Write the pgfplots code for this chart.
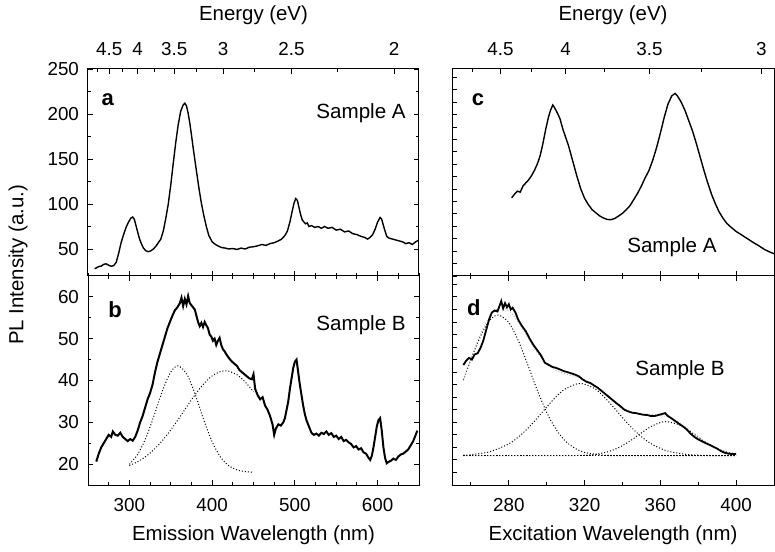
\documentclass[border=0pt]{standalone}
\usepackage{fontspec}
\setmainfont{Liberation Sans}
\usepackage{pgfplots}
\pgfplotsset{compat=1.18}

\pgfplotsset{
  panel/.style={
    scale only axis, clip=true,
    axis line style={line width=0.5pt},
    every tick/.style={line width=0.45pt, black},
    major tick length=2.6pt, minor tick length=1.6pt,
    tick align=inside,
    ticklabel style={font=\fontsize{9.4}{11}\selectfont},
    /pgf/number format/assume math mode=true,
    label style={font=\fontsize{10.2}{12}\selectfont},
  },
  topen/.style={
    panel, axis x line*=top, axis y line=none,
    xticklabel style={yshift=3pt},
    xlabel={Energy (eV)},
    xlabel style={at={(axis description cs:0.5,1)}, anchor=center, yshift=27pt},
  },
  dat/.style={black, line width=0.7pt},
  fit/.style={black, line width=0.5pt, dash pattern=on 0.5pt off 1pt, smooth},
}
\newcommand{\plab}[1]{\textbf{\fontsize{11}{13}\selectfont #1}}
\newcommand{\slab}{\fontsize{10.3}{12}\selectfont}

\begin{document}
\begin{tikzpicture}
\useasboundingbox (0,0) rectangle (387.5pt,275.5pt);

% ---------- a ----------
\begin{axis}[panel, at={(44pt,137.5pt)}, anchor=south west,
  width=165.5pt, height=103.5pt,
  xmin=250, xmax=650, ymin=20, ymax=250,
  xtick={300,400,500,600}, xticklabels={}, minor xtick={250,275,...,650},
  xtick pos=bottom, ytick pos=both,
  ytick={50,100,150,200,250}, minor y tick num=1,
  yticklabel style={xshift=-1pt}]
\addplot[dat] coordinates {
(258,28) (260,29) (263,30.5) (266,31) (269,33) (272,33.5) (275,32) (278,30.8)
(281,31.5) (284,35) (287,45) (290,57) (293,66) (296,74) (299,80) (302,84.5)
(304,85.5) (306,83) (308,76) (310,69) (312,62) (314,57) (317,51) (320,48)
(323,47) (326,48) (329,50) (332,53) (335,57) (338,61) (341,70) (344,84)
(347,100) (350,121) (353,145) (356,168) (359,188) (362,203) (365,210) (367,212)
(369,209) (371,201) (373,190) (375,177) (377,163) (379,150) (381,137) (384,118)
(387,101) (390,87) (393,75) (396,65) (400,58) (404,55) (408,53) (412,51.5)
(416,51) (420,50) (425,50.5) (430,49.5) (435,51) (440,50) (445,52) (450,52.5)
(455,53.5) (460,55) (465,54) (470,56) (475,57) (480,59) (484,61) (488,65)
(491,70) (494,80) (497,93) (499,101) (501,106) (503,104) (505,96) (507,88)
(509,82) (511,80) (513,78) (515,79) (517,75) (520,76) (524,74) (528,75)
(532,73) (536,75) (540,73) (545,74) (550,71) (555,72) (560,69) (565,70)
(570,67) (575,66) (580,64) (584,63) (588,61) (591,63) (594,66) (597,72)
(600,80) (603,85) (605,83) (607,76) (609,70) (611,64) (614,62) (618,61)
(622,60) (626,59) (630,58) (634,56) (638,57) (642,55) (646,58) (650,60)};
\node[anchor=center] at (axis description cs:0.06,0.85) {\plab{a}};
\node[anchor=center] at (axis description cs:0.825,0.787) {\slab Sample A};
\end{axis}
\begin{axis}[topen, at={(44pt,137.5pt)}, anchor=south west,
  width=165.5pt, height=103.5pt, xmin=250, xmax=650, ymin=0, ymax=1,
  xtick={275.56,310,354.29,413.33,496,620},
  xticklabels={4.5,4,3.5,3,2.5,2},
  minor xtick={261.05,291.76,330.67,381.54,450.91,551.11}]
\end{axis}

% ---------- b ----------
\begin{axis}[panel, at={(44pt,33pt)}, anchor=south west,
  width=165.5pt, height=104.5pt,
  xmin=250, xmax=650, ymin=15, ymax=65,
  xtick={300,400,500,600}, minor xtick={250,275,...,650},
  ytick={20,30,40,50,60}, minor y tick num=1,
  yticklabel style={xshift=-1pt},
  xticklabel style={yshift=-3pt},
  xlabel={Emission Wavelength (nm)},
  xlabel style={at={(axis description cs:0.5,0)}, anchor=center, yshift=-25pt}]
\addplot[dat, line width=1pt] coordinates {
(260,20.6) (263,22.5) (266,24) (269,25) (272,26) (275,27) (278,26.5) (280,27.8)
(283,27) (286,26.8) (289,27.5) (292,26.5) (295,26) (298,25.5) (301,26) (304,25.6)
(307,26.5) (310,28) (313,30) (316,31.5) (319,33.5) (322,35.5) (325,37) (328,39)
(331,42) (334,44.5) (337,46.5) (340,48.5) (343,50.5) (346,52.5) (349,54) (352,55.5)
(355,56.8) (358,57.5) (361,58.5) (363,59.8) (365,57.8) (367,59.5) (369,58.2) (371,60.2)
(373,58.5) (375,58) (377,57.5) (379,57) (381,55.5) (383,54) (385,53) (387,53.8)
(389,52.8) (391,54) (393,53.2) (395,52.5) (397,51) (399,50.5) (401,49.5) (403,50)
(405,48.5) (407,49.5) (409,50.2) (411,48.5) (413,47.5) (415,47) (418,46) (421,45.2)
(424,44.5) (427,44) (430,43.5) (433,42.5) (436,42) (439,41.5) (442,41) (445,40.5)
(448,40.3) (450,41.5) (452,38) (455,36.5) (458,35.5) (461,36) (464,34) (467,33)
(470,31.5) (473,29.5) (475,27) (477,28.5) (480,29.5) (483,29.2) (486,30) (488,31)
(490,33) (492,35) (494,38) (496,40.5) (498,43) (500,44.5) (502,45) (504,42)
(506,39) (508,36.5) (510,34) (512,32) (514,30.5) (516,29.5) (518,28.5) (520,27.5)
(523,27) (526,27.3) (529,26.8) (532,27.5) (535,27.2) (538,27.8) (541,27) (544,27.4)
(547,26.5) (550,26.8) (553,26) (556,26.5) (559,25.5) (562,25.8) (565,25.2) (568,24.8)
(571,24) (574,24.3) (577,23.5) (580,23.8) (583,22.8) (586,22.5) (589,21.5) (591,21)
(593,22) (595,24) (597,26.5) (599,29) (601,30.5) (603,31) (605,28) (607,24)
(609,21.5) (611,20.2) (613,20.5) (616,20.8) (619,21.3) (622,21) (625,21.8) (628,22.3)
(631,22.5) (634,23) (637,23.5) (640,24.5) (643,25.5) (646,27) (648,28)};
\addplot[fit] coordinates {
(300,19.94) (310,22.32) (320,26.28) (330,31.69) (340,37.53) (350,42.02) (359,43.5)
(370,41.32) (380,36.40) (390,30.53) (400,25.35) (410,21.72) (420,19.63) (430,18.61)
(440,18.20) (450,18.06)};
\addplot[fit] coordinates {
(300,19.65) (310,20.57) (320,21.85) (330,23.54) (340,25.65) (350,28.17) (360,30.98)
(370,33.92) (380,36.75) (390,39.23) (400,41.09) (410,42.13) (416,42.3) (420,42.22)
(430,41.37) (440,39.66) (450,37.28)};
\node[anchor=center] at (axis description cs:0.082,0.837) {\plab{b}};
\node[anchor=center] at (axis description cs:0.825,0.766) {\slab Sample B};
\end{axis}

% ---------- c ----------
\begin{axis}[panel, at={(226pt,137.5pt)}, anchor=south west,
  width=161pt, height=103.5pt,
  xmin=250, xmax=420, ymin=0, ymax=100,
  xtick={280,320,360,400}, xticklabels={}, minor x tick num=1,
  extra x ticks={260}, extra x tick labels={}, extra x tick style={major tick length=1.6pt},
  xtick pos=bottom, ytick pos=left,
  ytick={0,6,...,96}, yticklabels={}]
\addplot[dat] coordinates {
(281.5,37.8) (283,39.5) (284.5,41) (286,40.5) (287.5,43.5) (289,45) (290.5,46.5)
(292,48.5) (293.5,51) (295,54) (296.5,58) (298,64) (299.5,71) (301,77) (302,80)
(303.2,82.6) (304,81.5) (305.5,79) (307,76) (308.5,71) (310,67) (311.5,63) (313,58)
(314.5,53) (316,48) (318,42) (320,37.5) (322,34.5) (324,32) (326,30.5) (328,29)
(330,28) (332,27.3) (334,27.2) (336,27.8) (338,29) (340,30.3) (342,32) (344,34)
(346,37) (348,40) (350,43.5) (352,47.5) (354,51) (356,56) (358,62) (360,69)
(362,76.5) (364,83) (366,87) (367.8,88.2) (369,87) (371,84) (373,80) (375,75)
(377,70) (379,64) (381,57.5) (383,51) (385,45) (387,39.5) (389,35) (391,31)
(393,28) (395,25.5) (397,23.8) (400,21.5) (403,19.8) (406,18) (409,16.2) (412,14.6)
(415,12.8) (418,11.5) (420,10.8)};
\node[anchor=center] at (axis description cs:0.081,0.85) {\plab{c}};
\node[anchor=center] at (axis description cs:0.683,0.14) {\slab Sample A};
\end{axis}
\begin{axis}[topen, at={(226pt,137.5pt)}, anchor=south west,
  width=161pt, height=103.5pt, xmin=250, xmax=420, ymin=0, ymax=1,
  xtick={275.56,310,354.29,413.33},
  xticklabels={4.5,4,3.5,3},
  minor xtick={261.05,291.76,330.67,381.54}]
\end{axis}

% ---------- d ----------
\begin{axis}[panel, at={(226pt,33pt)}, anchor=south west,
  width=161pt, height=104.5pt,
  xmin=250, xmax=420, ymin=0, ymax=100,
  xtick={280,320,360,400}, minor x tick num=1,
  extra x ticks={260}, extra x tick labels={}, extra x tick style={major tick length=1.6pt},
  ytick pos=left, ytick={0,6,...,96}, yticklabels={},
  xticklabel style={yshift=-3pt},
  xlabel={Excitation Wavelength (nm)},
  xlabel style={at={(axis description cs:0.5,0)}, anchor=center, yshift=-25pt}]
\addplot[fit] coordinates {(256,14) (400,14)};
\addplot[fit] coordinates {
(256,50.2) (260,60.0) (265,71.1) (270,78.9) (274.5,81.3) (280,77.7) (285,69.1)
(290,57.5) (295,45.4) (300,34.7) (305,26.5) (310,20.9) (315,17.5) (320,15.6)
(330,14.25) (340,14.03) (360,14) (400,14)};
\addplot[fit] coordinates {
(256,14.28) (260,14.51) (270,15.93) (280,19.71) (285,22.93) (290,27.1) (295,32.05)
(300,37.3) (305,42.3) (310,46.1) (317.6,48.6) (325,46.3) (330,42.4) (335,37.5)
(340,32.27) (345,27.3) (350,23.09) (355,19.82) (360,17.5) (365,15.98) (375,14.52)
(385,14.11) (400,14.0)};
\addplot[fit] coordinates {
(256,14) (310,14.07) (320,14.25) (325,14.61) (330,15.36) (335,16.72) (340,18.83)
(345,21.68) (350,24.94) (355,27.94) (360,29.9) (363.4,30.3) (370,28.8) (375,26.09)
(380,22.84) (385,19.78) (390,17.38) (395,15.77) (400,14.83)};
\addplot[fit, gray!60] coordinates {
(256,50.5) (260,60.5) (265,72.1) (270,80.8) (275,84.7) (280,83.4) (285,78.0)
(290,70.6) (295,63.45) (300,58.0) (305,54.8) (310,53.1) (315,51.9) (320,50.2)
(325,47.6) (330,44.0) (335,40.3) (340,37.1) (345,35.0) (350,34.0) (355,33.8)
(360,33.4) (365,32.2) (370,29.85) (375,26.6) (380,23.1) (385,19.9) (390,17.4)
(395,15.8) (400,14.8)};
\addplot[dat, line width=0.9pt] coordinates {
(256,57.4) (257.5,59.5) (259,60.8) (260.5,60) (262,62.5) (263.5,63) (265,65.5)
(266.5,69) (268,74) (269.5,79) (271,82.5) (272.5,83.5) (274,83) (275,85.5) (276,88)
(277,84.5) (278,87) (279,85) (280,86.5) (281,84) (282,84.8) (283.5,82.5) (285,79)
(287,76) (289,73.5) (291,70) (293,67) (295,64.5) (297,62) (299,58.5) (301,57.5)
(303,56.5) (305,56) (307,55.3) (309,54.5) (311,54) (313,53.4) (315,52.8) (317,52)
(319,50.5) (321,49.4) (323,48.8) (325,47.6) (327,46.5) (329,45) (331,43.5) (333,42)
(335,40.5) (337,39) (339,37.6) (341,36) (343,35.2) (345,34.6) (347,34.4) (349,34)
(351,33.6) (353,33.5) (355,33) (357,33) (359,33.5) (361,34) (362.5,34.4) (364,33)
(366,31.8) (368,30.5) (370,29.2) (372,28) (374,26.5) (376,24.5) (378,23) (380,21.8)
(382,20.9) (384,20) (386,19.2) (388,18.3) (390,17.4) (392,16.2) (394,15.4) (396,15)
(398,14.8) (400,14.9)};
\node[anchor=center] at (axis description cs:0.068,0.847) {\plab{d}};
\node[anchor=center] at (axis description cs:0.708,0.55) {\slab Sample B};
\end{axis}

\node[rotate=90, font=\fontsize{10.2}{12}\selectfont] at (9pt,143pt) {PL Intensity (a.u.)};
\end{tikzpicture}
\end{document}
